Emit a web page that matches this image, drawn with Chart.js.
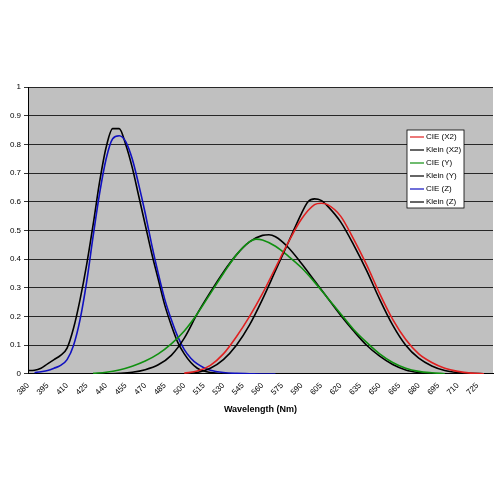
<!DOCTYPE html><html><head><script src="https://cdn.jsdelivr.net/npm/chart.js@4"></script>
<style>body{margin:0;background:#fff}#w{width:500px;height:500px}</style></head><body><div id="w"><canvas id="c"></canvas></div>
<script>
const xTicks=[380,395,410,425,440,455,470,485,500,515,530,545,560,575,590,605,620,635,650,665,680,695,710,725];
const yTicks=[0,0.1,0.2,0.3,0.4,0.5,0.6,0.7,0.8,0.9,1];
const labels=['CIE (X2)','Klein (X2)','CIE (Y)','Klein (Y)','CIE (Z)','Klein (Z)'];
const colors=['#e02020','#000000','#109010','#000000','#1010c0','#000000'];
const cieXnm=[500,510,520,530,540,550,560,570,580,590,600,605,610,620,630,640,650,660,670,680,690,700,710,720,730];
const cieX=[0.003,0.01,0.03,0.07,0.13,0.2,0.28,0.37,0.46,0.54,0.59,0.595,0.59,0.55,0.47,0.38,0.28,0.19,0.12,0.07,0.04,0.02,0.009,0.003,0.001];
const kleinXnm=[500,510,520,530,540,550,560,570,580,590,595,600,605,610,620,630,640,650,660,670,680,690,700,710,720,730];
const kleinX=[0,0.005,0.02,0.05,0.1,0.17,0.26,0.36,0.46,0.56,0.6,0.61,0.605,0.585,0.53,0.45,0.36,0.26,0.17,0.1,0.055,0.028,0.012,0.005,0.002,0.001];
const cieYnm=[430,440,450,460,470,480,490,500,510,520,530,540,550,555,560,570,580,590,600,610,620,630,640,650,660,670,680,690,700];
const cieY=[0.002,0.006,0.014,0.027,0.045,0.07,0.105,0.15,0.21,0.28,0.35,0.415,0.46,0.47,0.467,0.445,0.41,0.37,0.32,0.265,0.21,0.155,0.11,0.07,0.04,0.02,0.009,0.004,0.001];
const kleinYnm=[440,450,460,470,480,490,500,510,520,530,540,550,560,565,570,580,590,600,610,620,630,640,650,660,670,680,690];
const kleinY=[0,0.002,0.006,0.015,0.032,0.065,0.125,0.21,0.285,0.355,0.415,0.46,0.483,0.485,0.478,0.44,0.385,0.325,0.265,0.205,0.15,0.1,0.062,0.033,0.014,0.005,0.001];
const cieZnm=[385,390,395,400,405,410,415,420,425,430,435,440,445,450,455,460,465,470,475,480,485,490,495,500,505,510,515,520,530,540,550,560,570];
const cieZ=[0.005,0.008,0.012,0.02,0.03,0.05,0.1,0.19,0.32,0.48,0.63,0.75,0.82,0.83,0.81,0.75,0.66,0.56,0.45,0.35,0.26,0.19,0.13,0.085,0.055,0.035,0.022,0.013,0.005,0.002,0.001,0,0];
const kleinZnm=[380,385,390,395,400,405,410,415,420,425,430,435,440,445,450,455,460,465,470,475,480,485,490,495,500,505,510,515,520,530,540];
const kleinZ=[0.012,0.013,0.02,0.035,0.05,0.065,0.09,0.16,0.26,0.38,0.52,0.67,0.79,0.855,0.855,0.8,0.72,0.62,0.52,0.42,0.33,0.24,0.17,0.11,0.07,0.04,0.02,0.01,0.005,0.001,0];
const sets=[[cieXnm,cieX],[kleinXnm,kleinX],[cieYnm,cieY],[kleinYnm,kleinY],[cieZnm,cieZ],[kleinZnm,kleinZ]];
const datasets=sets.map((s,i)=>({label:labels[i],data:s[0].map((x,j)=>({x,y:s[1][j]})),borderColor:colors[i],borderWidth:1.6,pointRadius:0,cubicInterpolationMode:'monotone',fill:false}));
const bg={id:'bg',beforeDraw(c){const a=c.chartArea,x=c.ctx;x.save();x.fillStyle='#c0c0c0';x.fillRect(a.left,a.top,a.right-a.left,a.bottom-a.top);x.restore();},
afterDraw(c){const x=c.ctx;x.save();const L=407,T=130,W=57,H=78;x.fillStyle='#fff';x.fillRect(L,T,W,H);x.strokeStyle='#000';x.lineWidth=0.8;x.strokeRect(L,T,W,H);
x.font='8px Arial, "Liberation Sans"';x.textBaseline='middle';labels.forEach((l,i)=>{const y=T+7+i*13;x.strokeStyle=colors[i];x.lineWidth=1.2;x.beginPath();x.moveTo(L+3,y);x.lineTo(L+17,y);x.stroke();x.fillStyle='#000';x.fillText(l,L+19,y);});x.restore();}};
new Chart(document.getElementById('c'),{type:'line',data:{datasets},plugins:[bg],options:{animation:false,responsive:true,maintainAspectRatio:false,
layout:{padding:{top:87,right:7,left:0,bottom:81}},plugins:{legend:{display:false},tooltip:{enabled:false}},
scales:{x:{type:'linear',min:380,max:737,afterBuildTicks(a){a.ticks=xTicks.map(v=>({value:v}));},
grid:{display:false,drawTicks:true,tickLength:4,color:'#000'},border:{color:'#000'},
ticks:{maxRotation:45,minRotation:45,autoSkip:false,color:'#000',font:{size:8,family:'Arial, "Liberation Sans"'}},
title:{display:true,text:'Wavelength (Nm)',color:'#000',font:{size:9,weight:'bold',family:'Arial, "Liberation Sans"'}}},
y:{min:0,max:1,afterBuildTicks(a){a.ticks=yTicks.map(v=>({value:v}));},afterFit(a){a.width=28;},
grid:{color:'#000',lineWidth:0.8,tickLength:4},border:{color:'#000'},
ticks:{color:'#000',font:{size:8,family:'Arial, "Liberation Sans"'},callback:v=>String(v)}}}}});
</script></body></html>
